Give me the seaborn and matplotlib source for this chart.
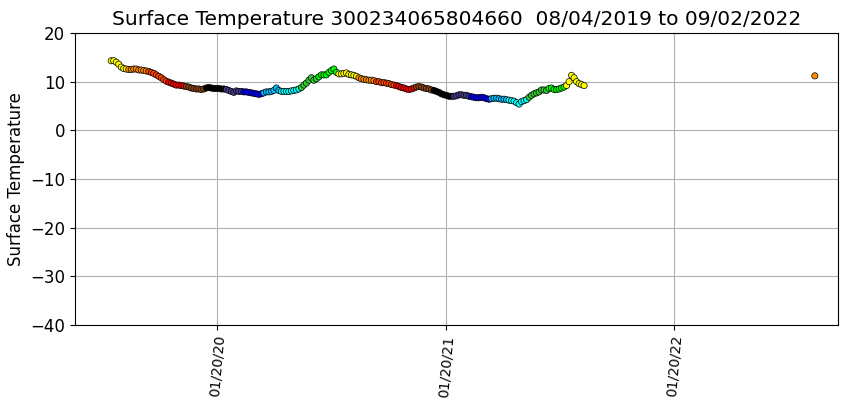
import numpy as np
import pandas as pd
import matplotlib
matplotlib.use("Agg")
import matplotlib.pyplot as plt
import matplotlib.dates as mdates
import seaborn as sns

# Sample dates: every 4 days from the first record, plus the final isolated record
start_date = "2019-08-04"
step_days = 4
temps = [
    14.3, 14.3, 14.0, 13.6, 13.0, 12.7, 12.6, 12.5, 12.5, 12.6,
    12.6, 12.4, 12.4, 12.3, 12.2, 12.1, 11.9, 11.7, 11.4, 11.1,
    10.8, 10.4, 10.1, 9.9, 9.7, 9.5, 9.3, 9.3, 9.2, 9.1,
    9.0, 8.9, 8.7, 8.6, 8.5, 8.5, 8.4, 8.5, 8.7, 8.8,
    8.7, 8.6, 8.6, 8.6, 8.5, 8.5, 8.4, 8.2, 8.0, 7.8,
    8.1, 8.0, 8.0, 7.9, 7.9, 7.8, 7.7, 7.6, 7.5, 7.4,
    7.5, 7.7, 7.9, 7.9, 8.0, 8.2, 8.7, 8.2, 8.0, 8.0,
    8.0, 8.0, 8.1, 8.2, 8.3, 8.5, 8.8, 9.3, 9.7, 10.3,
    10.8, 10.3, 10.6, 11.0, 11.4, 11.4, 11.4, 11.9, 12.3, 12.6,
    11.9, 11.6, 11.6, 11.7, 11.8, 11.5, 11.4, 11.3, 11.1, 10.8,
    10.6, 10.5, 10.4, 10.3, 10.3, 10.2, 10.0, 10.0, 9.8, 9.8,
    9.7, 9.6, 9.4, 9.3, 9.2, 9.0, 8.8, 8.7, 8.5, 8.4,
    8.5, 8.7, 8.9, 9.0, 8.9, 8.7, 8.6, 8.5, 8.3, 8.2,
    8.0, 7.8, 7.5, 7.3, 7.2, 7.0, 7.0, 7.0, 7.1, 7.3,
    7.3, 7.2, 7.2, 7.0, 6.9, 6.8, 6.7, 6.7, 6.8, 6.7,
    6.5, 6.4, 6.5, 6.6, 6.6, 6.5, 6.4, 6.4, 6.3, 6.2,
    6.1, 6.0, 5.7, 5.4, 5.9, 6.1, 6.3, 6.8, 7.2, 7.5,
    7.7, 7.9, 8.3, 8.3, 8.2, 8.6, 8.7, 8.4, 8.4, 8.5,
    8.7, 8.9, 9.2, 10.0, 11.3, 10.8, 10.0, 9.6, 9.4, 9.2,
]
last_date = "2022-09-02"
last_temp = 11.2

month_colors = {
    1: "black", 2: "darkslateblue", 3: "blue", 4: "deepskyblue",
    5: "cyan", 6: "limegreen", 7: "lime", 8: "yellow",
    9: "darkorange", 10: "orangered", 11: "red", 12: "saddlebrown",
}

tick_dates = ["2020-01-20", "2021-01-20", "2022-01-20"]
x_range = ["2019-06-07", "2022-10-09"]
y_ticks = [-40, -30, -20, -10, 0, 10, 20]

dates = list(pd.date_range(start_date, periods=len(temps), freq=f"{step_days}D"))
dates.append(pd.Timestamp(last_date))
df = pd.DataFrame({"date": dates, "temp": temps + [last_temp]})
df["month"] = df["date"].dt.month

fig = plt.figure(figsize=(8.6, 4.08), dpi=100)
ax = fig.add_subplot(111)
fig.subplots_adjust(left=0.0872, right=0.9744, top=0.9191, bottom=0.2034)

sns.scatterplot(data=df, x="date", y="temp", hue="month", palette=month_colors,
                s=20, edgecolor="black", linewidth=0.5, legend=False, ax=ax, zorder=3)

ax.set_xlim(pd.Timestamp(x_range[0]), pd.Timestamp(x_range[1]))
ax.set_ylim(-40, 20)
ax.set_yticks(y_ticks)
ax.tick_params(axis="y", labelsize=12)
ax.set_xticks([pd.Timestamp(d) for d in tick_dates])
ax.xaxis.set_major_formatter(mdates.DateFormatter("%m/%d/%y"))
for lbl in ax.get_xticklabels():
    lbl.set_rotation(85)
    lbl.set_fontsize(10)
ax.grid(True, color="#b0b0b0", linewidth=0.8)
ax.set_axisbelow(True)
ax.set_xlabel("")
ax.set_ylabel("Surface Temperature", fontsize=12)
ax.set_title("Surface Temperature 300234065804660  08/04/2019 to 09/02/2022", fontsize=14.5)

fig.savefig("out.png", dpi=100)
